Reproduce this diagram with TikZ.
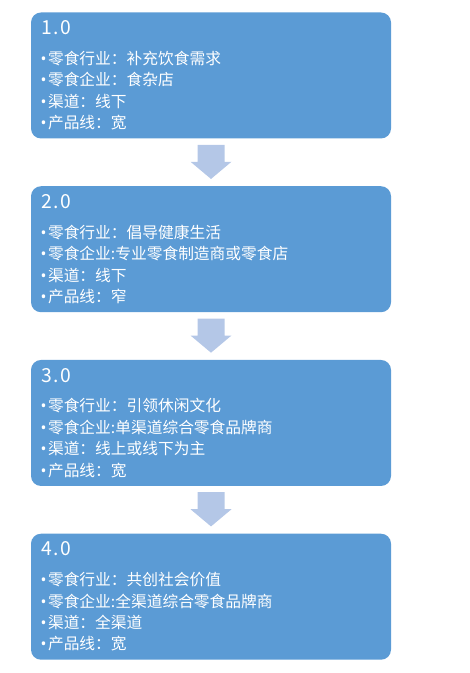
\documentclass[tikz,border=0pt]{standalone}
\usepackage{fontspec}
\setmainfont{Noto Sans CJK SC}
\newfontfamily\latinf{Noto Sans}
\usetikzlibrary{positioning,calc}
\definecolor{vblue}{HTML}{5B9BD5}
\definecolor{lblue}{HTML}{B4C7E7}
\newcommand{\itm}{{\latinf •}\kern1.2pt}

\begin{document}
\begin{tikzpicture}[x=0.75pt, y=-0.75pt,
  box/.style={fill=vblue, rounded corners=7.5pt, minimum width=270pt, minimum height=94.5pt, inner sep=0pt},
  ttl/.style={anchor=base west, font=\fontsize{14.5pt}{16pt}\selectfont\addfontfeatures{LetterSpace=10}, text=white, inner sep=0pt},
  body/.style={anchor=north west, font=\fontsize{11.8pt}{16.1pt}\selectfont, text=white, align=left, inner sep=0pt},
  dn/.style={fill=lblue}]
\useasboundingbox (0,0) rectangle (470,673);

% ---------------- four stages, top to bottom
\node[box] (b1) at (211,75.5) {};
\node[box, below=35.4pt of b1] (b2) {};
\node[box, below=35.4pt of b2] (b3) {};
\node[box, below=35.4pt of b3] (b4) {};

\node[ttl] (t1) at ($(b1.north west)+(10,22.5)$) {1.0};
\node[body] (l1) at ($(b1.north west)+(9.5,38.5)$)
  {\itm 零食行业：补充饮食需求\\ \itm 零食企业：食杂店\\ \itm 渠道：线下\\ \itm 产品线：宽};

\node[ttl] (t2) at ($(b2.north west)+(10,22.5)$) {2.0};
\node[body] (l2) at ($(b2.north west)+(9.5,38.5)$)
  {\itm 零食行业：倡导健康生活\\ \itm 零食企业:专业零食制造商或零食店\\ \itm 渠道：线下\\ \itm 产品线：窄};

\node[ttl] (t3) at ($(b3.north west)+(10,22.5)$) {3.0};
\node[body] (l3) at ($(b3.north west)+(9.5,38.5)$)
  {\itm 零食行业：引领休闲文化\\ \itm 零食企业:单渠道综合零食品牌商\\ \itm 渠道：线上或线下为主\\ \itm 产品线：宽};

\node[ttl] (t4) at ($(b4.north west)+(10,22.5)$) {4.0};
\node[body] (l4) at ($(b4.north west)+(9.5,38.5)$)
  {\itm 零食行业：共创社会价值\\ \itm 零食企业:全渠道综合零食品牌商\\ \itm 渠道：全渠道\\ \itm 产品线：宽};

% ---------------- block arrows between the stages
\foreach \u/\v in {b1/b2, b2/b3, b3/b4}
  \fill[dn] ($(\u.south)+(-13.5,6)$) -- ++(27,0) -- ++(0,17) -- ++(7,0)
    -- ($(\v.north)+(0,-7)$) -- ($(\u.south)+(-20.5,23)$) -- ++(7,0) -- cycle;
\end{tikzpicture}
\end{document}
